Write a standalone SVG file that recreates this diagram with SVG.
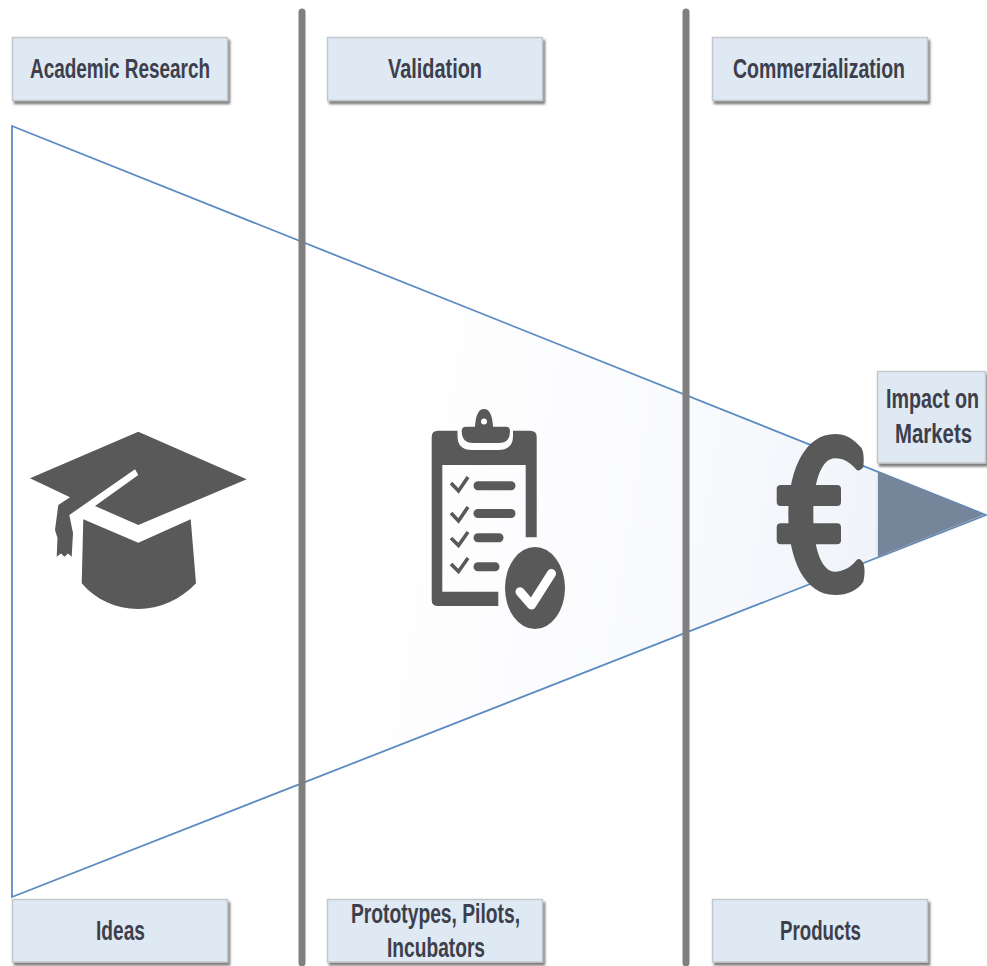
<svg xmlns="http://www.w3.org/2000/svg" width="987" height="966" viewBox="0 0 987 966">
<style>
.box{fill:#dfe9f4;stroke:#c3c7cc;stroke-width:1.5;filter:url(#sh)}
.lb{font-family:"Liberation Sans",Arial,sans-serif;font-weight:700;font-size:28px;fill:#3d3f4c;text-anchor:middle}
.sep{stroke:#7f7f7f;stroke-width:7;stroke-linecap:round;fill:none}
.ic{fill:#595959}
.ck{fill:none;stroke:#595959;stroke-width:3.6;stroke-linejoin:miter}
.ln{stroke:#595959;stroke-width:9;stroke-linecap:round;fill:none}
</style>
<defs>
<filter id="sh" x="-10%" y="-20%" width="120%" height="140%"><feDropShadow dx="2" dy="3" stdDeviation="1.2" flood-color="#555" flood-opacity=".75"/></filter>
<filter id="sh2" x="-10%" y="-10%" width="120%" height="120%"><feDropShadow dx="0" dy="1" stdDeviation="1.5" flood-color="#777" flood-opacity=".4"/></filter>
<linearGradient id="g" gradientUnits="userSpaceOnUse" x1="380" y1="430" x2="880" y2="515"><stop offset="0" stop-color="#fff"/><stop offset=".6" stop-color="#f9fafd"/><stop offset="1" stop-color="#f0f4fa"/></linearGradient>
</defs>
<g id="funnel">
<polygon points="12,126 986,515 12,897" fill="url(#g)" stroke="#5b8bc0" stroke-width="1.8"/>
<polygon points="878,471.500 984,514.500 878,556.500" fill="#75859a" filter="url(#sh2)"/>
</g>
<g id="connectors">
<line class="sep" x1="302" y1="12" x2="302" y2="963"/>
<line class="sep" x1="686" y1="12" x2="686" y2="963"/>
</g>
<g id="hat">
<path class="ic" d="M138.300 431.700L246.700 479.300L138.300 525L95 506L138.300 475L135 469.300L69.300 515L73 533L71.700 556.700L68 553.500L64.500 556.700L61 553.500L56.700 556.700L57.500 538L55 530L58.300 505L70 497.300L30 478.300Z"/>
<path class="ic" d="M83.300 519.300L138.300 542.700L190.700 519.300L196 583.300C180 600 160 609 138 609C116 609 96 600 81.700 583.300Z"/>
</g>
<g id="clipboard">
<path class="ic" d="M438 430.700H530Q536.700 430.700 536.700 437V537.300H525.700V465H442.300V591.700H498.300V606H438Q431.700 606 431.700 600V437Q431.700 430.700 438 430.700Z"/>
<path d="M457.500 428V436Q457.500 450 472 450H498Q513 450 513 436V428Z" fill="#fdfdfe"/>
<path class="ic" d="M461.700 431Q461.700 426.700 466 426.700H475Q476 409 484 409Q492 409 493 426.700H506Q510 426.700 510 431Q510 443 499 443H473Q461.700 443 461.700 431Z"/>
<circle cx="484" cy="421.500" r="3" fill="#fff"/>
<path class="ck" d="M451 483L458.500 491L468 477"/>
<path class="ck" d="M451 513L458.500 521L468 507"/>
<path class="ck" d="M451 538L458.500 545.500L468 532"/>
<path class="ck" d="M451 564L458.500 571.500L468 558"/>
<line class="ln" x1="478" y1="485.700" x2="511" y2="485.700"/>
<line class="ln" x1="478" y1="513.500" x2="511" y2="513.500"/>
<line class="ln" x1="478" y1="537.700" x2="499" y2="537.700"/>
<line class="ln" x1="478" y1="566.700" x2="495" y2="566.700"/>
<ellipse cx="535" cy="588" rx="30" ry="41" fill="#595959"/>
<path d="M520 591.700L531.500 605L551.500 573.500" fill="none" stroke="#fff" stroke-width="9" stroke-linecap="round" stroke-linejoin="round"/>
</g>
<g id="euro">
<path class="ic" d="M861.700 448.300C853 438 845 434 835 434C805 434 788.300 470 788.300 515C788.300 560 805 595 835 595C848 595 858 590 863.300 581.700C865 575 865 568 863.300 563C861 559 859 558 856.700 560C851 567 844 571.700 835 571.700C822 571.700 813.300 550 813.300 515C813.300 480 822 458.300 835 458.300C844 458.300 851 463 856.700 470C859 471 861 470 863.300 467.300C864 460 864 453 861.700 448.300Z"/>
<rect class="ic" x="776.700" y="485" width="64.300" height="21" rx="4"/>
<rect class="ic" x="776.700" y="523.300" width="64.300" height="21" rx="4"/>
</g>
<g id="academic-research"><rect class="box" x="12.500" y="37.500" width="215" height="63"/><text class="lb" transform="translate(120,78) scale(.72,1)" textLength="250" lengthAdjust="spacingAndGlyphs">Academic Research</text></g>
<g id="validation"><rect class="box" x="327.500" y="37.500" width="215" height="63"/><text class="lb" transform="translate(435,78) scale(.72,1)" textLength="130.600" lengthAdjust="spacingAndGlyphs">Validation</text></g>
<g id="commerzialization"><rect class="box" x="712.500" y="37.500" width="215" height="63"/><text class="lb" transform="translate(819,78) scale(.72,1)" textLength="238.900" lengthAdjust="spacingAndGlyphs">Commerzialization</text></g>
<g id="impact"><rect class="box" x="877.500" y="371.500" width="108" height="91.500"/><text class="lb" transform="translate(932.500,408) scale(.72,1)" textLength="129.200" lengthAdjust="spacingAndGlyphs">Impact on</text><text class="lb" transform="translate(933.500,443) scale(.72,1)" textLength="106.900" lengthAdjust="spacingAndGlyphs">Markets</text></g>
<g id="ideas"><rect class="box" x="12.500" y="899.500" width="215" height="62.500"/><text class="lb" transform="translate(120.500,940) scale(.72,1)" textLength="68" lengthAdjust="spacingAndGlyphs">Ideas</text></g>
<g id="prototypes"><rect class="box" x="327.500" y="899.500" width="215" height="62.500"/><text class="lb" transform="translate(435.500,922.700) scale(.72,1)" textLength="234.700" lengthAdjust="spacingAndGlyphs">Prototypes, Pilots,</text><text class="lb" transform="translate(436,957) scale(.72,1)" textLength="136.100" lengthAdjust="spacingAndGlyphs">Incubators</text></g>
<g id="products"><rect class="box" x="712.500" y="899.500" width="215" height="62.500"/><text class="lb" transform="translate(820.500,940) scale(.72,1)" textLength="112.500" lengthAdjust="spacingAndGlyphs">Products</text></g>
</svg>
